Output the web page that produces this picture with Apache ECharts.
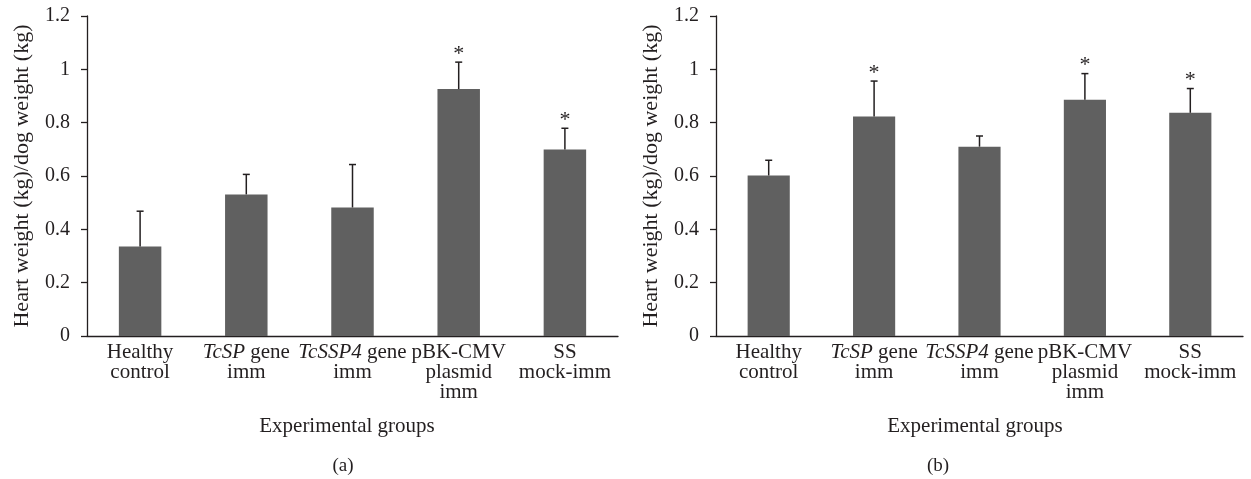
<!DOCTYPE html>
<html>
<head>
<meta charset="utf-8">
<script src="https://cdn.jsdelivr.net/npm/echarts@6/dist/echarts.min.js"></script>
<style>html,body{margin:0;padding:0;background:#fff;}#c{width:1251px;height:479px;}</style>
</head>
<body>
<div id="c"></div>
<script>
// ---- data ----
const categories = ['Healthy\ncontrol', '{i|TcSP} gene\nimm', '{i|TcSSP4} gene\nimm', 'pBK-CMV\nplasmid\nimm', 'SS\nmock-imm'];
const yTicks = [0, 0.2, 0.4, 0.6, 0.8, 1, 1.2];
const valuesA = [0.336, 0.531, 0.482, 0.926, 0.699];
const errorsA = [0.132, 0.075, 0.161, 0.101, 0.080];
const signifA = [0, 0, 0, 1, 1];
const valuesB = [0.602, 0.823, 0.710, 0.886, 0.837];
const errorsB = [0.057, 0.133, 0.040, 0.098, 0.091];
const signifB = [0, 1, 0, 1, 1];
const yTitle = 'Heart weight (kg)/dog weight (kg)';
const xTitle = 'Experimental groups';
const panelLabels = ['(a)', '(b)'];

const FONT = '"Liberation Serif", "DejaVu Serif", serif';
const INK = '#231f20';
const BAR = '#606060';

const chart = echarts.init(document.getElementById('c'), null, {renderer: 'canvas'});

function xAxisCfg(gi) {
  return {
    type: 'category', gridIndex: gi, data: categories,
    axisLine: {lineStyle: {color: INK, width: 1.3}},
    axisTick: {show: false},
    axisLabel: {
      interval: 0, margin: 6, color: INK, fontFamily: FONT, fontSize: 21, lineHeight: 20,
      rich: {i: {fontStyle: 'italic', fontFamily: FONT, fontSize: 21, lineHeight: 20, color: INK}}
    }
  };
}
function yAxisCfg(gi) {
  return {
    type: 'value', gridIndex: gi, min: yTicks[0], max: yTicks[yTicks.length - 1], interval: 0.2,
    name: yTitle, nameLocation: 'middle', nameGap: 54, nameRotate: 90,
    nameTextStyle: {fontFamily: FONT, fontSize: 22, color: INK},
    axisLine: {show: true, lineStyle: {color: INK, width: 1.3}},
    axisTick: {show: true, length: 6, lineStyle: {color: INK, width: 1.3}},
    splitLine: {show: false},
    axisLabel: {margin: 17, color: INK, fontFamily: FONT, fontSize: 20}
  };
}
function errData(vals, errs, sig) {
  return vals.map((v, i) => [i, v, errs[i], sig[i]]);
}
function renderErr(params, api) {
  const x = api.value(0), v = api.value(1), e = api.value(2), s = api.value(3);
  const p0 = api.coord([x, v]);
  const p1 = api.coord([x, v + e]);
  const style = {stroke: INK, lineWidth: 1.5};
  const children = [
    {type: 'line', shape: {x1: p0[0], y1: p0[1], x2: p1[0], y2: p1[1]}, style: style},
    {type: 'line', shape: {x1: p1[0] - 3.5, y1: p1[1], x2: p1[0] + 3.5, y2: p1[1]}, style: style}
  ];
  if (s) {
    children.push({type: 'text', style: {text: '*', x: p1[0], y: p1[1] + 3, align: 'center', verticalAlign: 'bottom',
      fontFamily: FONT, fontSize: 22, fill: INK}});
  }
  return {type: 'group', children: children};
}

const option = {
  animation: false,
  backgroundColor: '#fff',
  grid: [
    {left: 87, top: 16, width: 531, height: 320},
    {left: 716, top: 16, width: 527, height: 320}
  ],
  xAxis: [xAxisCfg(0), xAxisCfg(1)],
  yAxis: [yAxisCfg(0), yAxisCfg(1)],
  series: [
    {type: 'bar', xAxisIndex: 0, yAxisIndex: 0, data: valuesA, barWidth: '40%', itemStyle: {color: BAR}},
    {type: 'custom', xAxisIndex: 0, yAxisIndex: 0, data: errData(valuesA, errorsA, signifA), renderItem: renderErr, z: 5},
    {type: 'bar', xAxisIndex: 1, yAxisIndex: 1, data: valuesB, barWidth: '40%', itemStyle: {color: BAR}},
    {type: 'custom', xAxisIndex: 1, yAxisIndex: 1, data: errData(valuesB, errorsB, signifB), renderItem: renderErr, z: 5}
  ],
  graphic: [
    {type: 'text', x: 347, y: 426, style: {text: xTitle, fontFamily: FONT, fontSize: 21, fill: INK, align: 'center', verticalAlign: 'middle'}},
    {type: 'text', x: 975, y: 426, style: {text: xTitle, fontFamily: FONT, fontSize: 21, fill: INK, align: 'center', verticalAlign: 'middle'}},
    {type: 'text', x: 343, y: 466, style: {text: panelLabels[0], fontFamily: FONT, fontSize: 19, fill: INK, align: 'center', verticalAlign: 'middle'}},
    {type: 'text', x: 938, y: 466, style: {text: panelLabels[1], fontFamily: FONT, fontSize: 19, fill: INK, align: 'center', verticalAlign: 'middle'}}
  ]
};
chart.setOption(option);
</script>
</body>
</html>
